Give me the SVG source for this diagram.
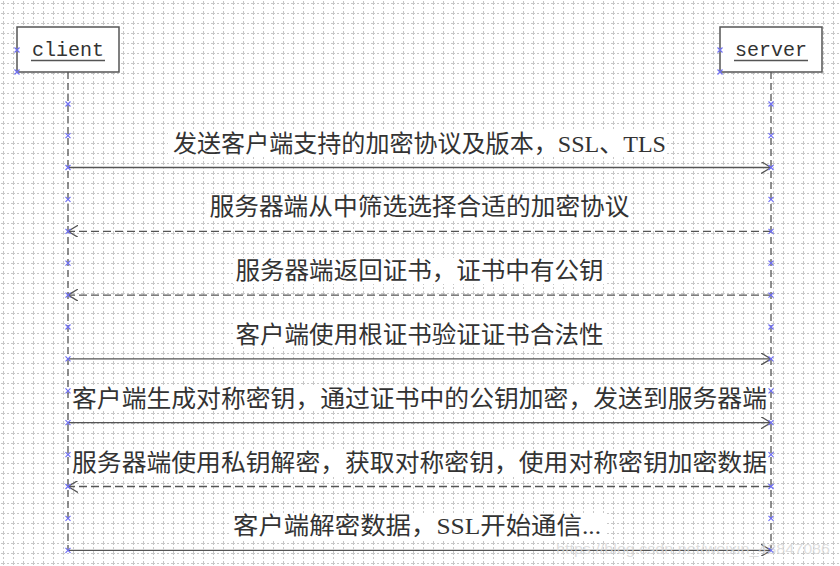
<svg xmlns="http://www.w3.org/2000/svg" width="840" height="566" viewBox="0 0 840 566">
<defs>
<pattern id="grid" width="10" height="10" patternUnits="userSpaceOnUse" x="3" y="3">
<path d="M0 0.5 H10 M0.5 0 V10" fill="none" stroke="#c8c8c8" stroke-width="1" stroke-dasharray="2 2"/>
</pattern>
<marker id="arr" viewBox="0 0 10 12" refX="10" refY="6" markerWidth="10" markerHeight="12" orient="auto" markerUnits="userSpaceOnUse">
<path d="M0,0 L10,6 L0,12" fill="none" stroke="#555" stroke-width="1.3"/>
</marker>
<g id="xm"><path d="M-2.5,-2.5 L2.5,2.5 M-2.5,2.5 L2.5,-2.5" stroke="#6f6ff5" stroke-width="1.2" fill="none"/></g>
</defs>
<style>
.box{fill:#fff;stroke:#555;stroke-width:1.5}
.name{font-family:"Liberation Mono","DejaVu Sans Mono",monospace;font-size:20px;fill:#333;text-anchor:middle}
.ul{stroke:#555;stroke-width:1.5}
.life{stroke:#555;stroke-width:1.3;stroke-dasharray:7 4;fill:none}
.msg{stroke:#555;stroke-width:1.3;fill:none;marker-end:url(#arr)}
.dash{stroke-dasharray:8 4}
.lbl{font-family:"Liberation Serif","Noto Sans CJK SC",serif;font-size:24px;fill:#333;text-anchor:middle}
.lbg{fill:#fff}
</style>
<rect width="840" height="566" fill="#fff"/>
<rect width="840" height="566" fill="url(#grid)"/>

<g id="client">
<rect class="box" x="17" y="27" width="102" height="45"/>
<text class="name" x="68" y="56">client</text>
<line class="ul" x1="31" y1="60.5" x2="105" y2="60.5"/>
<line class="life" x1="68" y1="72" x2="68" y2="550"/>
</g>
<g id="server">
<rect class="box" x="720" y="27" width="102" height="45"/>
<text class="name" x="771" y="56">server</text>
<line class="ul" x1="734" y1="60.5" x2="808" y2="60.5"/>
<line class="life" x1="771" y1="72" x2="771" y2="550"/>
</g>

<g id="connectors">
<line class="msg" x1="68" y1="167.5" x2="771" y2="167.5"/>
<line class="msg dash" x1="771" y1="231.3" x2="68" y2="231.3"/>
<line class="msg dash" x1="771" y1="295.1" x2="68" y2="295.1"/>
<line class="msg" x1="68" y1="358.9" x2="771" y2="358.9"/>
<line class="msg" x1="68" y1="422.7" x2="771" y2="422.7"/>
<line class="msg dash" x1="771" y1="486.5" x2="68" y2="486.5"/>
<line class="msg" x1="68" y1="550.3" x2="771" y2="550.3"/>
</g>

<g id="labels">
<rect class="lbg" x="168" y="130" width="497" height="26"/>
<text class="lbl" x="419.5" y="151.5" textLength="493" lengthAdjust="spacingAndGlyphs">发送客户端支持的加密协议及版本，SSL、TLS</text>
<rect class="lbg" x="206" y="194" width="424" height="26"/>
<text class="lbl" x="419.5" y="215.3" textLength="420" lengthAdjust="spacingAndGlyphs">服务器端从中筛选选择合适的加密协议</text>
<rect class="lbg" x="233" y="258" width="372" height="26"/>
<text class="lbl" x="419.5" y="279.1" textLength="368" lengthAdjust="spacingAndGlyphs">服务器端返回证书，证书中有公钥</text>
<rect class="lbg" x="233" y="321" width="372" height="26"/>
<text class="lbl" x="419.5" y="342.9" textLength="368" lengthAdjust="spacingAndGlyphs">客户端使用根证书验证证书合法性</text>
<rect class="lbg" x="70" y="385" width="699" height="26"/>
<text class="lbl" x="419.5" y="406.7" textLength="695" lengthAdjust="spacingAndGlyphs">客户端生成对称密钥，通过证书中的公钥加密，发送到服务器端</text>
<rect class="lbg" x="70" y="449" width="699" height="26"/>
<text class="lbl" x="419.5" y="470.5" textLength="695" lengthAdjust="spacingAndGlyphs">服务器端使用私钥解密，获取对称密钥，使用对称密钥加密数据</text>
<rect class="lbg" x="231" y="513" width="374" height="26"/>
<text class="lbl" x="417" y="534.3" textLength="368" lengthAdjust="spacingAndGlyphs">客户端解密数据，SSL开始通信...</text>
</g>

<g id="handles">
<use href="#xm" x="17" y="50"/><use href="#xm" x="17" y="72"/>
<use href="#xm" x="720" y="50"/><use href="#xm" x="720" y="72"/>
<use href="#xm" x="68" y="104"/><use href="#xm" x="68" y="135.7"/><use href="#xm" x="68" y="167.5"/><use href="#xm" x="68" y="199.4"/><use href="#xm" x="68" y="231.3"/><use href="#xm" x="68" y="263.2"/><use href="#xm" x="68" y="295.1"/><use href="#xm" x="68" y="327"/><use href="#xm" x="68" y="358.9"/><use href="#xm" x="68" y="390.8"/><use href="#xm" x="68" y="422.7"/><use href="#xm" x="68" y="454.6"/><use href="#xm" x="68" y="486.5"/><use href="#xm" x="68" y="518.4"/><use href="#xm" x="68" y="550.3"/>
<use href="#xm" x="771" y="104"/><use href="#xm" x="771" y="135.7"/><use href="#xm" x="771" y="167.5"/><use href="#xm" x="771" y="199.4"/><use href="#xm" x="771" y="231.3"/><use href="#xm" x="771" y="263.2"/><use href="#xm" x="771" y="295.1"/><use href="#xm" x="771" y="327"/><use href="#xm" x="771" y="358.9"/><use href="#xm" x="771" y="390.8"/><use href="#xm" x="771" y="422.7"/><use href="#xm" x="771" y="454.6"/><use href="#xm" x="771" y="486.5"/><use href="#xm" x="771" y="518.4"/><use href="#xm" x="771" y="550.3"/>
</g>

<text x="556" y="554" font-family="Liberation Sans, sans-serif" font-size="14" fill="#d6d6d6" fill-opacity="0.8" textLength="274" lengthAdjust="spacingAndGlyphs">https://blog.csdn.net/weixin_43847086</text>
</svg>
